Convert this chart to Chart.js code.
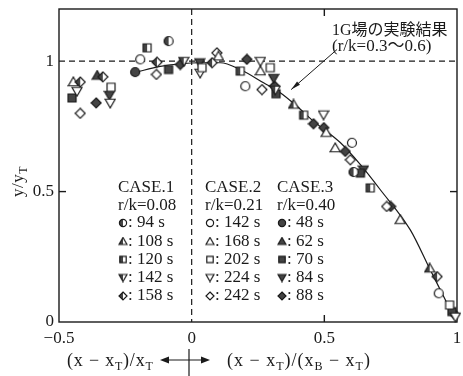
<!DOCTYPE html>
<html>
<head>
<meta charset="utf-8">
<script src="https://cdn.jsdelivr.net/npm/chart.js@4.4.0/dist/chart.umd.min.js"></script>
<style>
  html, body { margin: 0; padding: 0; background: #fff; }
</style>
</head>
<body>
<canvas id="myChart" width="463" height="376"></canvas>
<script>
// tick values
const X_TICKS = [-0.5, 0, 0.5, 1];
const Y_TICKS = [0, 0.5, 1];

// 1G field experiment curve (r/k = 0.3 ~ 0.6)
const lineX = [-0.212, -0.118, 0.032, 0.108, 0.183, 0.271, 0.334, 0.397, 0.459, 0.56, 0.636, 0.711, 0.824, 0.899, 0.962, 0.994];
const lineY = [0.957, 0.98, 0.994, 0.994, 0.968, 0.917, 0.879, 0.827, 0.77, 0.688, 0.603, 0.507, 0.353, 0.2, 0.073, 0.008];

// CASE.1  r/k=0.08 (half filled markers)
const case1_94s = [[-0.087, 1.077], [0.61, 0.575]];
const case1_108s = [[0.384, 0.834], [0.897, 0.206]];
const case1_120s = [[-0.168, 1.051], [0.183, 0.962], [0.422, 0.793], [0.673, 0.514]];
const case1_142s = [[-0.03, 1.0], [0.315, 0.89]];
const case1_158s = [[-0.42, 0.92], [-0.335, 0.94], [-0.131, 0.996], [0.077, 0.994], [0.925, 0.174]];

// CASE.2  r/k=0.21 (open markers)
const case2_142s = [[-0.194, 1.007], [0.202, 0.904], [0.604, 0.687], [0.931, 0.11]];
const case2_168s = [[-0.446, 0.92], [0.101, 1.019], [0.259, 0.962], [0.507, 0.726], [0.541, 0.667], [0.786, 0.392]];
const case2_202s = [[-0.304, 0.9], [0.039, 0.975], [0.296, 0.975], [0.972, 0.065]];
const case2_224s = [[-0.432, 0.885], [-0.307, 0.84], [0.032, 0.955], [0.259, 1.0], [0.497, 0.795], [0.994, 0.02]];
const case2_242s = [[-0.42, 0.8], [-0.133, 0.949], [0.095, 1.032], [0.265, 0.891], [0.598, 0.622], [0.735, 0.443]];

// CASE.3  r/k=0.40 (filled markers)
const case3_48s = [[-0.213, 0.958]];
const case3_62s = [[-0.356, 0.945]];
const case3_70s = [[-0.451, 0.859], [-0.087, 0.968], [0.318, 0.875], [0.636, 0.571], [0.981, 0.04]];
const case3_84s = [[-0.31, 0.87], [0.03, 0.995], [0.309, 0.935], [0.647, 0.584]];
const case3_88s = [[-0.36, 0.84], [-0.043, 0.987], [0.208, 1.007], [0.312, 0.905], [0.459, 0.76], [0.498, 0.745], [0.579, 0.654], [0.75, 0.443], [0.99, 0.03]];

const SHAPES = ['circle', 'triangle', 'square', 'triangleDown', 'diamond'];
const CASE1_TIMES = ['94 s', '108 s', '120 s', '142 s', '158 s'];
const CASE2_TIMES = ['142 s', '168 s', '202 s', '224 s', '242 s'];
const CASE3_TIMES = ['48 s', '62 s', '70 s', '84 s', '88 s'];

const INK = '#1a1a1a';
const DARK = '#444';
const SERIF = '"Liberation Serif", "Times New Roman", serif';
const JP = '"Liberation Serif", "Noto Sans CJK JP", serif';

// draw a marker into a small canvas, used as pointStyle
function makeMarker(shape, fill, size) {
  const c = document.createElement('canvas');
  c.width = size;
  c.height = size;
  const g = c.getContext('2d');
  const cx = size / 2, cy = size / 2, r = size / 2 - 1;
  g.beginPath();
  if (shape === 'circle') {
    g.arc(cx, cy, r * 0.9, 0, Math.PI * 2);
  } else if (shape === 'square') {
    g.rect(cx - r * 0.8, cy - r * 0.8, r * 1.6, r * 1.6);
  } else if (shape === 'triangle') {
    g.moveTo(cx, cy - r);
    g.lineTo(cx + r, cy + r * 0.75);
    g.lineTo(cx - r, cy + r * 0.75);
  } else if (shape === 'triangleDown') {
    g.moveTo(cx, cy + r);
    g.lineTo(cx + r, cy - r * 0.75);
    g.lineTo(cx - r, cy - r * 0.75);
  } else {
    g.moveTo(cx, cy - r);
    g.lineTo(cx + r, cy);
    g.lineTo(cx, cy + r);
    g.lineTo(cx - r, cy);
  }
  g.closePath();
  g.fillStyle = fill === 'full' ? DARK : '#fff';
  g.fill();
  if (fill === 'half') {
    g.save();
    g.clip();
    g.fillStyle = DARK;
    g.fillRect(0, 0, cx, size);
    g.restore();
  }
  g.strokeStyle = INK;
  g.lineWidth = 1.2;
  g.stroke();
  return c;
}

const SERIES = [
  [case1_94s, 0, 'half'], [case1_108s, 1, 'half'], [case1_120s, 2, 'half'], [case1_142s, 3, 'half'], [case1_158s, 4, 'half'],
  [case2_142s, 0, 'open'], [case2_168s, 1, 'open'], [case2_202s, 2, 'open'], [case2_224s, 3, 'open'], [case2_242s, 4, 'open'],
  [case3_48s, 0, 'full'], [case3_62s, 1, 'full'], [case3_70s, 2, 'full'], [case3_84s, 3, 'full'], [case3_88s, 4, 'full'],
];

const datasets = SERIES.map(([pts, shapeIdx, fill]) => ({
  data: pts.map(([x, y]) => ({ x, y })),
  pointStyle: makeMarker(SHAPES[shapeIdx], fill, 12),
  pointRadius: 5,
  clip: false,
  order: 0,
}));

datasets.push({
  data: lineX.map((x, i) => ({ x, y: lineY[i] })),
  showLine: true,
  pointRadius: 0,
  borderColor: INK,
  borderWidth: 1.2,
  cubicInterpolationMode: 'monotone',
  clip: false,
  order: 1,
});

// draw text piece by piece with subscripts and a small extra gap; parts = [text, isSub]
function drawRich(ctx, parts, x0, y, size, subSize, gap) {
  let x = x0;
  ctx.textAlign = 'left';
  ctx.textBaseline = 'alphabetic';
  parts.forEach(([t, sub]) => {
    ctx.font = (sub ? subSize : size) + 'px ' + SERIF;
    for (const ch of t) {
      ctx.fillText(ch, x, sub ? y + 4 : y);
      x += ctx.measureText(ch).width + gap;
    }
  });
}

const legendMarkers = {
  half: SHAPES.map(s => makeMarker(s, 'half', 10)),
  open: SHAPES.map(s => makeMarker(s, 'open', 10)),
  full: SHAPES.map(s => makeMarker(s, 'full', 10)),
};

const framePlugin = {
  id: 'frame',
  beforeDatasetsDraw(chart) {
    const { ctx, chartArea: a, scales: { x, y } } = chart;
    const seg = (x1, y1, x2, y2) => { ctx.beginPath(); ctx.moveTo(x1, y1); ctx.lineTo(x2, y2); ctx.stroke(); };
    ctx.save();
    ctx.strokeStyle = INK;
    ctx.lineWidth = 1.2;
    ctx.setLineDash([6, 4]);
    const y1 = y.getPixelForValue(1), x0 = x.getPixelForValue(0);
    seg(a.left, y1, a.right, y1);
    seg(x0, a.top, x0, a.bottom);
    ctx.setLineDash([]);
    ctx.lineWidth = 1.4;
    ctx.strokeRect(a.left, a.top, a.right - a.left, a.bottom - a.top);
    const xm = x.getPixelForValue(0.5), ym = y.getPixelForValue(0.5);
    seg(xm, a.bottom, xm, a.bottom - 7);
    seg(xm, a.top, xm, a.top + 7);
    seg(a.left, ym, a.left + 7, ym);
    seg(a.right, ym, a.right - 7, ym);
    ctx.restore();
  },
  afterDraw(chart) {
    const { ctx, scales: { x, y } } = chart;
    ctx.save();
    ctx.fillStyle = INK;
    ctx.strokeStyle = INK;

    // annotation: 1G result
    ctx.font = '16px ' + JP;
    ctx.textAlign = 'left';
    ctx.textBaseline = 'middle';
    ctx.fillText('1G場の実験結果', 332, 31);
    ctx.font = '17px ' + JP;
    ctx.fillText('(r/k=0.3〜0.6)', 332, 47);
    const ax0 = x.getPixelForValue(0.548), ay0 = y.getPixelForValue(1.045);
    const ax1 = x.getPixelForValue(0.375), ay1 = y.getPixelForValue(0.891);
    ctx.lineWidth = 1;
    ctx.beginPath(); ctx.moveTo(ax0, ay0); ctx.lineTo(ax1, ay1); ctx.stroke();
    const ang = Math.atan2(ay1 - ay0, ax1 - ax0);
    ctx.beginPath();
    ctx.moveTo(ax1, ay1);
    ctx.lineTo(ax1 - 10 * Math.cos(ang - 0.22), ay1 - 10 * Math.sin(ang - 0.22));
    ctx.lineTo(ax1 - 10 * Math.cos(ang + 0.22), ay1 - 10 * Math.sin(ang + 0.22));
    ctx.closePath();
    ctx.fill();

    // in-plot legend
    const cols = [
      ['CASE.1', 'r/k=0.08', 118, 'half', CASE1_TIMES],
      ['CASE.2', 'r/k=0.21', 205, 'open', CASE2_TIMES],
      ['CASE.3', 'r/k=0.40', 277, 'full', CASE3_TIMES],
    ];
    const rowY = [223, 241.5, 259.5, 277.5, 296];
    ctx.font = '17px ' + SERIF;
    ctx.textBaseline = 'middle';
    cols.forEach(([title, rk, cx, fill, times]) => {
      ctx.fillText(title, cx, 188);
      ctx.fillText(rk, cx, 205.5);
      times.forEach((t, i) => {
        const m = legendMarkers[fill][i];
        ctx.drawImage(m, cx, rowY[i] - 5);
        ctx.fillText(': ' + t, cx + 10, rowY[i]);
      });
    });

    // y axis title
    ctx.save();
    ctx.translate(23, 181);
    ctx.rotate(-Math.PI / 2);
    drawRich(ctx, [['y/y', false], ['T', true]], -16, 0, 17, 12, 0.5);
    ctx.restore();

    // x axis title
    drawRich(ctx, [['(x − x', false], ['T', true], [')/x', false], ['T', true]], 67, 366, 18, 12, 0.8);
    drawRich(ctx, [['(x − x', false], ['T', true], [')/(x', false], ['B', true], [' − x', false], ['T', true], [')', false]], 227, 366, 18, 12, 1.0);
    ctx.lineWidth = 1.2;
    ctx.beginPath(); ctx.moveTo(163, 360); ctx.lineTo(207, 360); ctx.stroke();
    ctx.beginPath(); ctx.moveTo(189, 349); ctx.lineTo(189, 376); ctx.stroke();
    ctx.beginPath(); ctx.moveTo(160, 360); ctx.lineTo(169, 356.5); ctx.lineTo(169, 363.5); ctx.closePath(); ctx.fill();
    ctx.beginPath(); ctx.moveTo(210, 360); ctx.lineTo(201, 356.5); ctx.lineTo(201, 363.5); ctx.closePath(); ctx.fill();
    ctx.restore();
  },
};

const chart = new Chart(document.getElementById('myChart'), {
  type: 'scatter',
  data: { datasets },
  plugins: [framePlugin],
  options: {
    responsive: false,
    animation: false,
    events: [],
    layout: { padding: { left: 0, right: 6, top: 9, bottom: 0 } },
    plugins: { legend: { display: false }, tooltip: { enabled: false } },
    scales: {
      x: {
        type: 'linear',
        min: -0.5,
        max: 1,
        afterBuildTicks: (s) => { s.ticks = X_TICKS.map(v => ({ value: v })); },
        afterFit: (s) => { s.height = 54; s.paddingLeft = 0; s.paddingRight = 0; },
        grid: { display: false, drawTicks: false },
        border: { display: false },
        ticks: {
          padding: 6,
          color: INK,
          font: { family: SERIF, size: 17 },
          callback: (v) => (v < 0 ? '−' + Math.abs(v) : String(v)),
        },
      },
      y: {
        type: 'linear',
        min: 0,
        max: 1.2,
        afterBuildTicks: (s) => { s.ticks = Y_TICKS.map(v => ({ value: v })); },
        afterFit: (s) => { s.width = 59; s.paddingTop = 0; s.paddingBottom = 0; },
        grid: { display: false, drawTicks: false },
        border: { display: false },
        ticks: {
          padding: 5,
          color: INK,
          font: { family: SERIF, size: 17 },
          callback: (v) => String(v),
        },
      },
    },
  },
});
</script>
</body>
</html>
